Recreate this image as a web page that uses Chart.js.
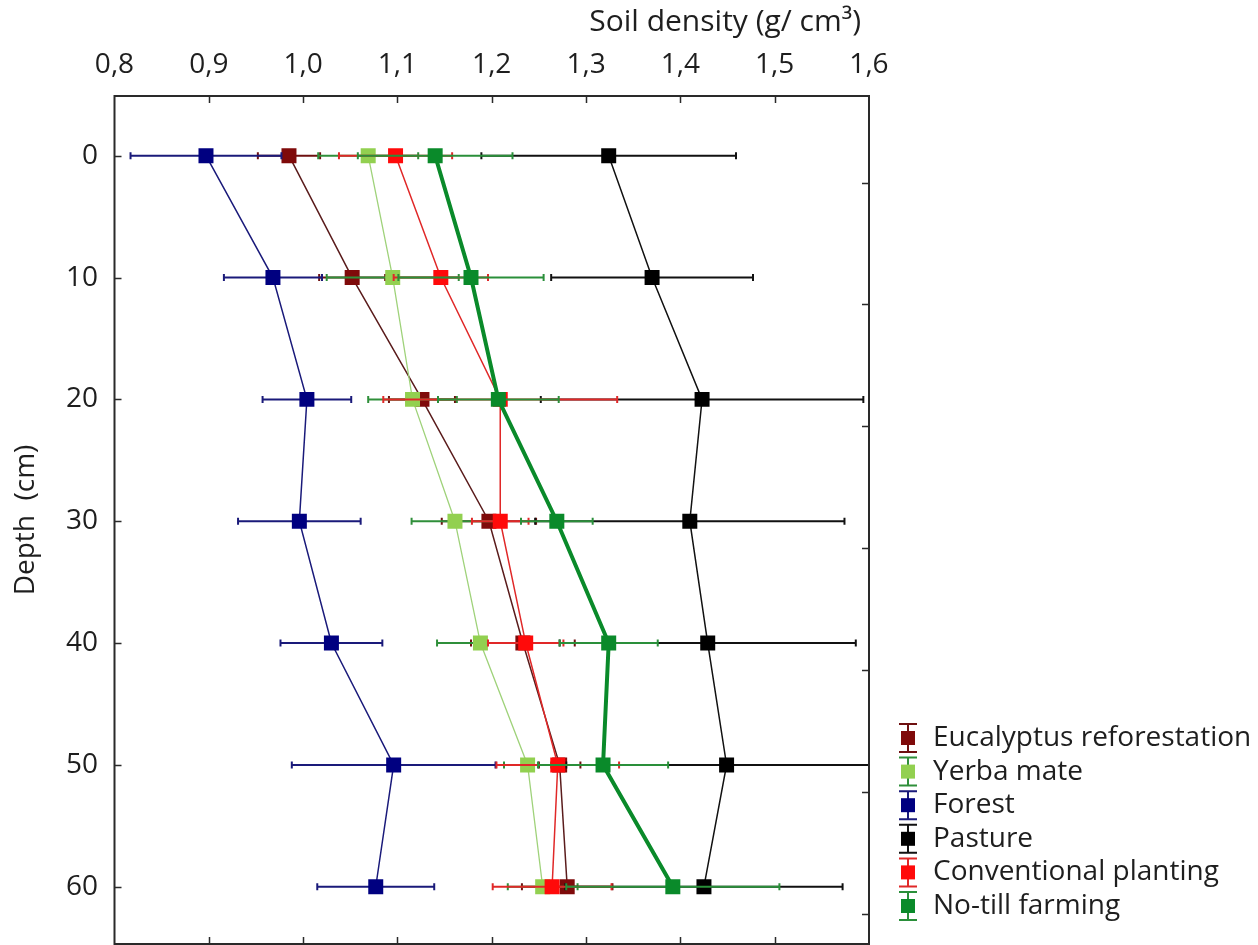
<!DOCTYPE html>
<html>
<head>
<meta charset="utf-8">
<script src="https://cdn.jsdelivr.net/npm/chart.js@4.4.1/dist/chart.umd.min.js"></script>
<style>
html,body{margin:0;padding:0;background:#fff;}
#wrap{width:1258px;height:945px;position:relative;overflow:hidden;}
</style>
</head>
<body>
<div id="wrap"><canvas id="c" width="1258" height="945"></canvas></div>
<script>
// ---- data ----
const depths = [0, 10, 20, 30, 40, 50, 60];
const seriesNames = ['Eucalyptus reforestation', 'Yerba mate', 'Forest', 'Pasture', 'Conventional planting', 'No-till farming'];

const eucalyptus      = [0.985, 1.052, 1.126, 1.197, 1.233, 1.272, 1.280];
const eucalyptusErr   = [0.033, 0.035, 0.035, 0.050, 0.055, 0.022, 0.048];
const yerbaMate       = [1.069, 1.095, 1.116, 1.161, 1.188, 1.238, 1.254];
const yerbaMateErr    = [0.053, 0.070, 0.047, 0.046, 0.046, 0.025, 0.037];
const forest          = [0.897, 0.968, 1.004, 0.996, 1.030, 1.096, 1.077];
const forestErr       = [0.080, 0.052, 0.047, 0.065, 0.054, 0.108, 0.062];
const pasture         = [1.324, 1.370, 1.423, 1.410, 1.429, 1.449, 1.425];
const pastureErr      = [0.135, 0.107, 0.171, 0.164, 0.157, 0.170, 0.147];
const conventional    = [1.098, 1.146, 1.209, 1.209, 1.236, 1.270, 1.264];
const conventionalErr = [0.060, 0.050, 0.124, 0.030, 0.040, 0.065, 0.063];
const noTill          = [1.140, 1.178, 1.207, 1.269, 1.324, 1.318, 1.392];
const noTillErr       = [0.082, 0.077, 0.064, 0.038, 0.052, 0.069, 0.113];

const xTickValues = [0.8, 0.9, 1.0, 1.1, 1.2, 1.3, 1.4, 1.5, 1.6];
const xTickLabels = ['0,8', '0,9', '1,0', '1,1', '1,2', '1,3', '1,4', '1,5', '1,6'];
const yTickValues = [0, 10, 20, 30, 40, 50, 60];
const yTickLabels = ['0', '10', '20', '30', '40', '50', '60'];
const rightTickValues = [2.2, 12.2, 22.2, 32.2, 42.2, 52.2, 62.2];
const xTitle = 'Soil density (g/ cm³)';
const yTitle = 'Depth  (cm)';

// ---- styles ----
const FONT = "'Open Sans', 'Liberation Sans', Arial, sans-serif";
const styles = [
  {marker:'#7f0a0a', line:'#5a1c1c', err:'#6e1010', width:1.5, order:5},
  {marker:'#92d050', line:'#9fd27a', err:'#2f8f3a', width:1.3, order:4},
  {marker:'#000080', line:'#1a1a7a', err:'#1a1a7a', width:1.5, order:3},
  {marker:'#000000', line:'#111111', err:'#111111', width:1.5, order:2},
  {marker:'#ff0a0a', line:'#e02828', err:'#e02828', width:1.5, order:1},
  {marker:'#0a8a2a', line:'#0a8a2a', err:'#2a8f3a', width:4,   order:0}
];
const values = [eucalyptus, yerbaMate, forest, pasture, conventional, noTill];
const errors = [eucalyptusErr, yerbaMateErr, forestErr, pastureErr, conventionalErr, noTillErr];

const datasets = seriesNames.map((name, k) => ({
  label: name,
  data: depths.map((d, i) => ({x: values[k][i], y: d})),
  errors: errors[k],
  errColor: styles[k].err,
  borderColor: styles[k].line,
  borderWidth: styles[k].width,
  backgroundColor: styles[k].marker,
  pointBackgroundColor: styles[k].marker,
  pointBorderColor: styles[k].marker,
  pointBorderWidth: 0,
  pointStyle: 'rect',
  pointRadius: 10.6,
  pointHoverRadius: 10.6,
  tension: 0,
  fill: false,
  order: styles[k].order
}));

// ---- plugins ----
const PLOT_BOTTOM = 944;
const fixArea = {
  id: 'fixArea',
  afterLayout(chart) {
    const a = chart.chartArea;
    const y = chart.scales.y;
    a.bottom = PLOT_BOTTOM;
    a.height = a.bottom - a.top;
    y.bottom = PLOT_BOTTOM;
    y.height = y.bottom - y.top;
    y.configure();
  }
};

const errorBars = {
  id: 'errorBars',
  beforeDatasetDraw(chart, args) {
    const ds = chart.data.datasets[args.index];
    if (!ds.errors) return;
    const {ctx, chartArea, scales: {x, y}} = chart;
    ctx.save();
    ctx.beginPath();
    ctx.rect(chartArea.left, chartArea.top, chartArea.right - chartArea.left, chartArea.bottom - chartArea.top);
    ctx.clip();
    ctx.strokeStyle = ds.errColor;
    ctx.lineWidth = 2;
    ds.data.forEach((p, i) => {
      const e = ds.errors[i];
      const x1 = x.getPixelForValue(p.x - e);
      const x2 = x.getPixelForValue(p.x + e);
      const py = y.getPixelForValue(p.y);
      ctx.beginPath();
      ctx.moveTo(x1, py); ctx.lineTo(x2, py);
      ctx.moveTo(x1, py - 3.5); ctx.lineTo(x1, py + 3.5);
      ctx.moveTo(x2, py - 3.5); ctx.lineTo(x2, py + 3.5);
      ctx.stroke();
    });
    ctx.restore();
  }
};

const frame = {
  id: 'frame',
  afterDraw(chart) {
    const {ctx, chartArea: a, scales: {x, y}} = chart;
    ctx.save();
    ctx.strokeStyle = '#2a2a2a';
    ctx.lineWidth = 2;
    ctx.strokeRect(a.left, a.top, a.right - a.left, a.bottom - a.top);
    ctx.lineWidth = 1.5;
    ctx.beginPath();
    xTickValues.slice(1, -1).forEach(v => {
      const px = Math.round(x.getPixelForValue(v)) + 0.5;
      ctx.moveTo(px, a.top); ctx.lineTo(px, a.top + 7);
      ctx.moveTo(px, a.bottom); ctx.lineTo(px, a.bottom - 7);
    });
    yTickValues.forEach(v => {
      const py = Math.round(y.getPixelForValue(v)) + 0.5;
      ctx.moveTo(a.left, py); ctx.lineTo(a.left + 7, py);
    });
    rightTickValues.forEach(v => {
      const py = Math.round(y.getPixelForValue(v)) + 0.5;
      ctx.moveTo(a.right, py); ctx.lineTo(a.right - 7, py);
    });
    ctx.stroke();
    // top axis title, right-aligned slightly inside the plot's right edge
    ctx.fillStyle = '#1e1e1e';
    ctx.font = "30px " + FONT;
    ctx.textAlign = 'right';
    ctx.textBaseline = 'middle';
    ctx.fillText(xTitle, a.right - 8, 22);
    ctx.restore();
  }
};

const legendBox = {
  id: 'legendBox',
  afterDraw(chart) {
    const {ctx} = chart;
    const gx = 908, tx = 933, y0 = 738, step = 33.6;
    ctx.save();
    chart.data.datasets.forEach((ds, k) => {
      const cy = y0 + k * step;
      ctx.strokeStyle = ds.errColor;
      ctx.lineWidth = 2;
      ctx.beginPath();
      ctx.moveTo(gx, cy - 14); ctx.lineTo(gx, cy + 14);
      ctx.moveTo(gx - 9, cy - 14); ctx.lineTo(gx + 9, cy - 14);
      ctx.moveTo(gx - 9, cy + 14); ctx.lineTo(gx + 9, cy + 14);
      ctx.stroke();
      ctx.fillStyle = ds.pointBackgroundColor;
      ctx.fillRect(gx - 7, cy - 7, 14, 14);
      ctx.fillStyle = '#1e1e1e';
      ctx.font = "28px " + FONT;
      ctx.textBaseline = 'middle';
      ctx.textAlign = 'left';
      ctx.fillText(ds.label, tx, cy);
    });
    ctx.restore();
  }
};

// ---- chart ----
new Chart(document.getElementById('c'), {
  type: 'line',
  data: {datasets},
  options: {
    responsive: false,
    animation: false,
    devicePixelRatio: 1,
    layout: {padding: {left: 0, right: 389, top: 0, bottom: 1}},
    plugins: {legend: {display: false}, tooltip: {enabled: false}},
    scales: {
      x: {
        type: 'linear', position: 'top', min: 0.8, max: 1.6,
        afterBuildTicks: s => { s.ticks = xTickValues.map(v => ({value: v})); },
        afterFit: s => { s.height = 96; s.paddingLeft = 0; s.paddingRight = 0; },
        ticks: {
          autoSkip: false, maxRotation: 0, padding: 14, color: '#1e1e1e',
          font: {family: FONT, size: 28},
          callback: (v, i) => xTickLabels[i]
        },
        grid: {display: true, drawOnChartArea: false, drawTicks: false},
        border: {display: false},
        title: {display: false, text: xTitle}
      },
      y: {
        type: 'linear', position: 'left', reverse: true, min: -4.9, max: 64.7,
        afterBuildTicks: s => { s.ticks = yTickValues.map(v => ({value: v})); },
        afterFit: s => { s.width = 114.5; s.paddingTop = 0; s.paddingBottom = 0; },
        ticks: {
          autoSkip: false, padding: 16.5, color: '#1e1e1e',
          font: {family: FONT, size: 28},
          callback: (v, i) => yTickLabels[i]
        },
        grid: {display: true, drawOnChartArea: false, drawTicks: false},
        border: {display: false},
        title: {
          display: true, text: yTitle, color: '#1e1e1e',
          font: {family: FONT, size: 28}, padding: {top: 9, bottom: 0}
        }
      }
    }
  },
  plugins: [fixArea, errorBars, frame, legendBox]
});
</script>
</body>
</html>
